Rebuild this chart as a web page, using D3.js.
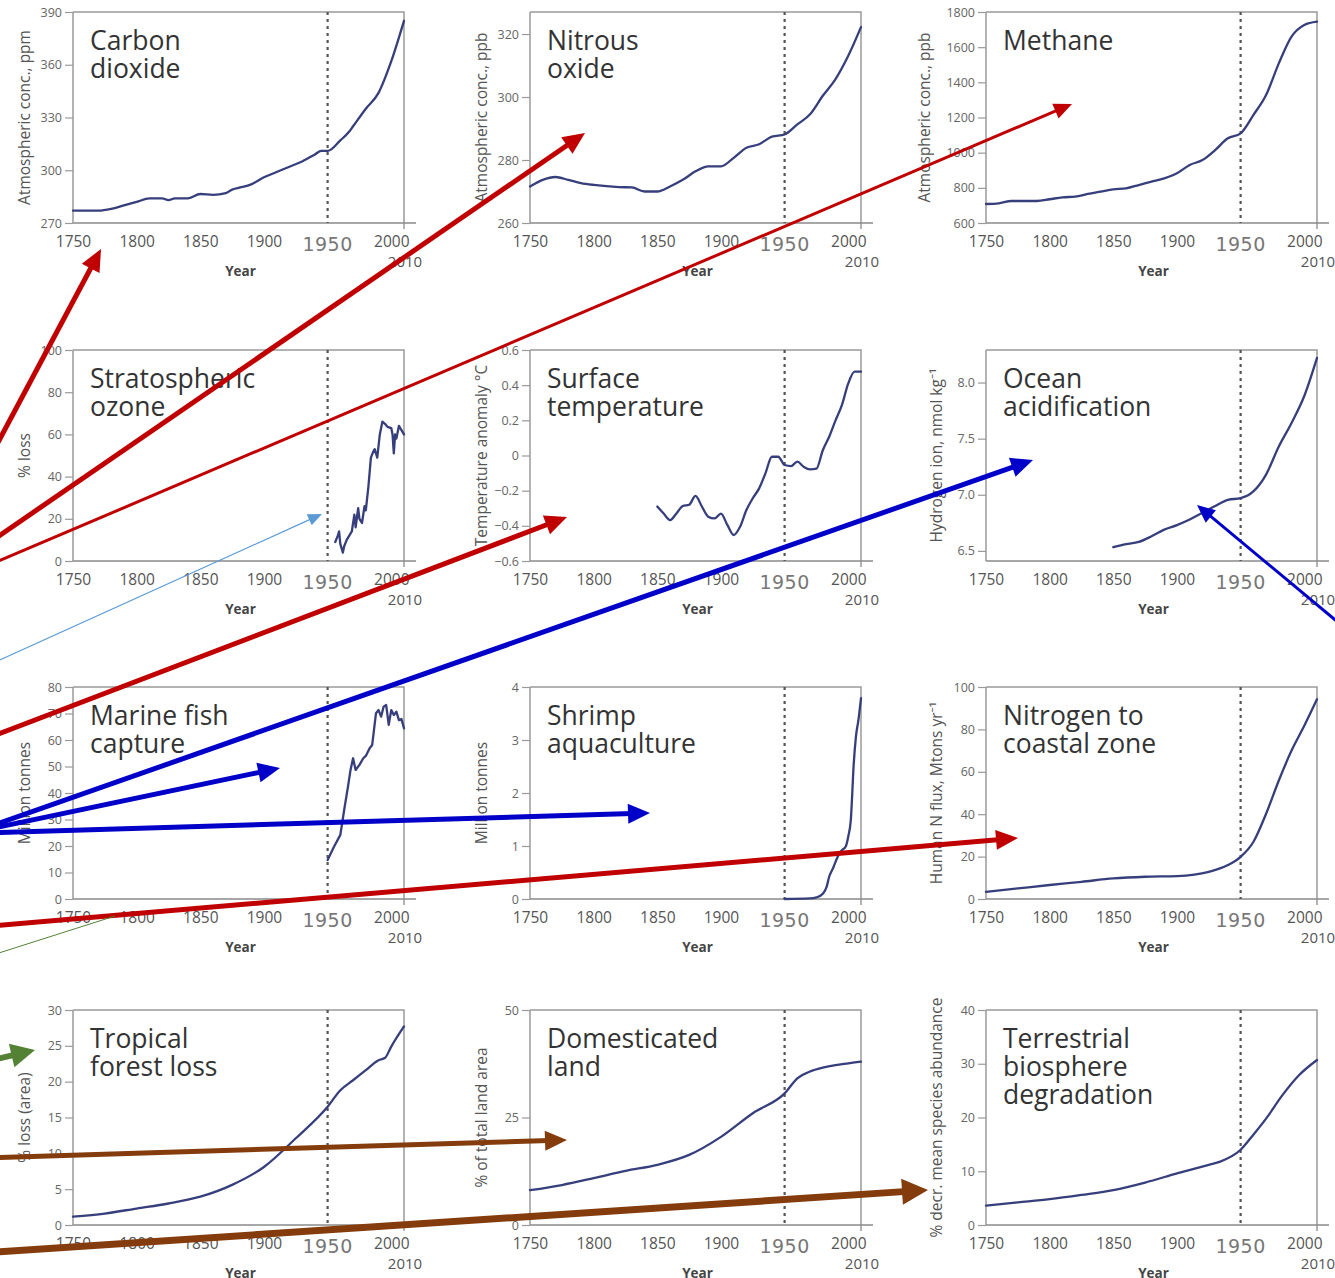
<!DOCTYPE html>
<html>
<head>
<meta charset="utf-8">
<script src="https://cdn.jsdelivr.net/npm/d3@7"></script>
<style>
  html, body { margin: 0; padding: 0; background: #fff; }
  svg { display: block; }
  text { font-family: "Open Sans", "Noto Sans", sans-serif; }
</style>
</head>
<body>
<svg id="chart" width="1335" height="1278"></svg>
<script>
// ---- series: [year, value] ----
const carbonDioxide = [[1750,277],[1760,277],[1770,277],[1780,278],[1790,280],[1800,282],[1810,284],[1820,284],[1825,283],[1830,284],[1840,284],[1850,286.5],[1860,286],[1870,287],[1875,289],[1880,290],[1890,292],[1900,296],[1910,299],[1920,302],[1930,305],[1940,309],[1945,311],[1950,311],[1960,317],[1967,322],[1970,325],[1980,335],[1990,344],[2000,362],[2010,385]];
const nitrousOxide = [[1750,271.6],[1760,273.7],[1770,274.6],[1780,273.7],[1790,272.7],[1800,272.1],[1820,271.4],[1830,271.3],[1840,270],[1850,270],[1860,271.6],[1870,273.7],[1880,276.4],[1890,278],[1900,278],[1910,280.7],[1920,283.9],[1930,285],[1940,287.4],[1950,288.1],[1960,291.3],[1970,294.5],[1980,300.4],[1990,305.7],[2000,313.1],[2010,322.2]];
const methane = [[1750,708],[1760,712],[1770,725],[1780,725],[1790,725],[1800,735],[1810,746],[1820,750],[1830,765],[1840,778],[1850,791],[1860,797],[1870,816],[1880,835],[1890,854],[1900,883],[1910,930],[1920,958],[1930,1015],[1940,1082],[1950,1110],[1960,1214],[1970,1328],[1980,1508],[1990,1660],[2000,1726],[2010,1745]];
const ozoneLoss = [[1956,9],[1958,12],[1959,14],[1960,8],[1962,4],[1963,7],[1965,10],[1967,12],[1969,14],[1971,22],[1972,16],[1974,25],[1975,20],[1977,18],[1979,26],[1980,24],[1982,35],[1984,49],[1986,52],[1987,53],[1989,49],[1991,60],[1993,66],[1995,65],[1997,63.6],[2000,63],[2001,60],[2002,51],[2003,60],[2004,58],[2006,64],[2008,62],[2010,60]];
const surfaceTemp = [[1850,-0.29],[1855,-0.33],[1860,-0.367],[1865,-0.33],[1870,-0.287],[1875,-0.28],[1880,-0.23],[1885,-0.29],[1890,-0.348],[1895,-0.358],[1900,-0.33],[1905,-0.395],[1910,-0.452],[1915,-0.405],[1920,-0.31],[1925,-0.243],[1930,-0.187],[1935,-0.1],[1940,-0.007],[1945,-0.007],[1950,-0.054],[1955,-0.06],[1960,-0.035],[1965,-0.064],[1970,-0.079],[1975,-0.075],[1980,0.03],[1985,0.107],[1990,0.2],[1995,0.287],[2000,0.41],[2005,0.477],[2010,0.477]];
const hydrogenIon = [[1850,6.533],[1860,6.56],[1870,6.58],[1880,6.63],[1890,6.69],[1900,6.73],[1910,6.78],[1920,6.84],[1930,6.9],[1940,6.955],[1950,6.97],[1960,7.03],[1970,7.18],[1980,7.43],[1990,7.64],[2000,7.88],[2010,8.22]];
const marineFish = [[1950,14.7],[1955,19.7],[1960,24.2],[1963,33.6],[1966,42.4],[1968,48.7],[1970,53.1],[1972,48.7],[1975,50.6],[1978,53.1],[1980,54],[1983,56.9],[1985,58.1],[1988,70.1],[1990,71.3],[1992,68.8],[1994,72.6],[1996,73.2],[1998,65.7],[2000,71.3],[2002,69.4],[2004,70.7],[2006,67.5],[2008,67.9],[2010,64.4]];
const shrimp = [[1950,0],[1970,0.01],[1975,0.03],[1980,0.1],[1983,0.23],[1985,0.42],[1988,0.58],[1990,0.7],[1993,0.86],[1995,0.92],[1998,0.99],[2000,1.18],[2002,1.49],[2003,1.93],[2004,2.43],[2006,3.06],[2008,3.38],[2010,3.79]];
const nitrogenFlux = [[1750,3.4],[1775,5],[1800,6.6],[1825,8.1],[1850,9.7],[1875,10.5],[1900,10.8],[1925,12.8],[1940,16],[1950,19.9],[1960,26.9],[1970,40.2],[1980,55.9],[1990,70],[2000,81.7],[2010,94.2]];
const forestLoss = [[1750,1.16],[1775,1.6],[1800,2.3],[1825,3.0],[1850,3.95],[1875,5.6],[1900,8.1],[1925,12.1],[1950,16.5],[1960,18.8],[1970,20.2],[1980,21.6],[1990,23],[1995,23.3],[2000,24.9],[2010,27.7]];
const domesticatedLand = [[1750,8.1],[1775,9.3],[1800,10.9],[1825,12.6],[1850,14],[1875,16.3],[1900,20.5],[1925,26],[1950,30.6],[1960,34.1],[1970,35.7],[1980,36.6],[1990,37.2],[2000,37.6],[2010,38]];
const biosphereLoss = [[1750,3.6],[1775,4.2],[1800,4.8],[1825,5.6],[1850,6.5],[1875,7.9],[1900,9.6],[1925,11.2],[1934,11.8],[1950,14],[1960,16.8],[1970,19.8],[1983,24.2],[1996,27.9],[2010,30.7]];

// ---- tick labels ----
const yearTicks = [1750, 1800, 1850, 1900, 2000];
const markYear = 1950;
const endYear = 2010;

// ---- panel definitions ----
const panels = [
  { title: ["Carbon", "dioxide"], yLabel: "Atmospheric conc., ppm", data: carbonDioxide, domain: [270, 390], ticks: [270,300,330,360,390], smooth: true },
  { title: ["Nitrous", "oxide"], yLabel: "Atmospheric conc., ppb", data: nitrousOxide, domain: [260, 327], ticks: [260,280,300,320], smooth: true },
  { title: ["Methane"], yLabel: "Atmospheric conc., ppb", data: methane, domain: [600, 1800], ticks: [600,800,1000,1200,1400,1600,1800], smooth: true },
  { title: ["Stratospheric", "ozone"], yLabel: "% loss", data: ozoneLoss, domain: [0, 100], ticks: [0,20,40,60,80,100], smooth: false },
  { title: ["Surface", "temperature"], yLabel: "Temperature anomaly °C", data: surfaceTemp, domain: [-0.6, 0.6], ticks: [-0.6,-0.4,-0.2,0,0.2,0.4,0.6], fmt: d => d === 0 ? "0" : d3.format(".1f")(d), smooth: true },
  { title: ["Ocean", "acidification"], yLabel: "Hydrogen ion, nmol kg⁻¹", data: hydrogenIon, domain: [6.41, 8.29], ticks: [6.5,7.0,7.5,8.0], fmt: d3.format(".1f"), smooth: true },
  { title: ["Marine fish", "capture"], yLabel: "Million tonnes", data: marineFish, domain: [0, 80], ticks: [0,10,20,30,40,50,60,70,80], smooth: false },
  { title: ["Shrimp", "aquaculture"], yLabel: "Million tonnes", data: shrimp, domain: [0, 4], ticks: [0,1,2,3,4], smooth: true },
  { title: ["Nitrogen to", "coastal zone"], yLabel: "Human N flux, Mtons yr⁻¹", data: nitrogenFlux, domain: [0, 100], ticks: [0,20,40,60,80,100], smooth: true },
  { title: ["Tropical", "forest loss"], yLabel: "% loss (area)", data: forestLoss, domain: [0, 30], ticks: [0,5,10,15,20,25,30], smooth: true },
  { title: ["Domesticated", "land"], yLabel: "% of total land area", data: domesticatedLand, domain: [0, 50], ticks: [0,25,50], smooth: true },
  { title: ["Terrestrial", "biosphere", "degradation"], yLabel: "% decr. mean species abundance", data: biosphereLoss, domain: [0, 40], ticks: [0,10,20,30,40], smooth: true }
];

// ---- layout ----
const colLeft = [73, 530, 986];
const plotW = 331;
const rowTop = [12, 350, 687, 1010];
const rowBottom = [223, 561, 899, 1225];
const yLabelX = [26, 483, 938];

// ---- annotation arrows (from the left margin into the panels) ----
const arrows = [
  { from: [-30, 495], to: [101, 249], color: "#c00000", width: 5, head: [22, 10] },
  { from: [-20, 549], to: [585, 133], color: "#c00000", width: 5, head: [22, 10] },
  { from: [-20, 569], to: [1072, 104], color: "#c00000", width: 3, head: [18, 8] },
  { from: [-20, 669], to: [322, 514], color: "#5b9bd5", width: 1.2, head: [14, 6] },
  { from: [-20, 741], to: [567, 517], color: "#c00000", width: 5, head: [22, 10] },
  { from: [-20, 830], to: [1033, 460], color: "#0000c8", width: 5, head: [22, 10] },
  { from: [-20, 831], to: [280, 768], color: "#0000c8", width: 5, head: [22, 10] },
  { from: [-20, 833], to: [650, 813], color: "#0000c8", width: 5, head: [22, 10] },
  { from: [-20, 927], to: [1018, 838], color: "#c00000", width: 5, head: [22, 10] },
  { from: [-20, 959], to: [115, 916], color: "#548235", width: 1, head: null },
  { from: [-20, 1063], to: [35, 1050], color: "#548235", width: 6, head: [24, 12] },
  { from: [-20, 1158], to: [567, 1140], color: "#843c0c", width: 5, head: [22, 10] },
  { from: [-20, 1253], to: [928, 1190], color: "#843c0c", width: 7, head: [26, 13] },
  { from: [1345, 628], to: [1197, 505], color: "#0000c8", width: 3, head: [18, 8] }
];

const svg = d3.select("#chart");
const lineColor = "#363f7c";
const frameColor = "#9a9a9a";

panels.forEach((p, i) => {
  const col = i % 3, row = Math.floor(i / 3);
  const x0 = colLeft[col], x1 = x0 + plotW;
  const top = rowTop[row], bottom = rowBottom[row];
  const x = d3.scaleLinear().domain([1750, 2010]).range([x0, x1]);
  const y = d3.scaleLinear().domain(p.domain).range([bottom, top]);
  const g = svg.append("g").attr("class", "panel");

  // frame: top and right edges
  g.append("path")
    .attr("d", `M${x0},${top}H${x1}V${bottom + 6}`)
    .attr("fill", "none").attr("stroke", frameColor).attr("stroke-width", 1.5);

  // y axis
  const ya = g.append("g").attr("transform", `translate(${x0},0)`)
    .call(d3.axisLeft(y).tickValues(p.ticks).tickSize(8).tickPadding(3).tickFormat(p.fmt || d3.format("d")));
  ya.select(".domain").attr("stroke", frameColor).attr("stroke-width", 1.5).attr("d", `M0,${top}V${bottom}`);
  ya.selectAll(".tick line").attr("stroke", frameColor).attr("stroke-width", 1.2);
  ya.selectAll(".tick text").attr("fill", "#666").style("font-size", "12.5px");

  // x axis
  const xa = g.append("g").attr("transform", `translate(0,${bottom})`)
    .call(d3.axisBottom(x).tickValues(yearTicks).tickSize(0).tickPadding(13).tickFormat(d3.format("d")));
  xa.select(".domain").attr("stroke", "#8a8a8a").attr("stroke-width", 1.6).attr("d", `M${x0},0H${x1 + 12}`);
  xa.selectAll(".tick text").attr("fill", "#555").style("font-size", "15.5px");

  g.append("text").attr("x", x(markYear)).attr("y", bottom + 28)
    .attr("text-anchor", "middle").attr("fill", "#777")
    .style("font-size", "19px").style("font-family", "'DejaVu Sans', sans-serif").style("letter-spacing", "0.5px")
    .text(markYear);
  g.append("text").attr("x", x(endYear) + 1).attr("y", bottom + 44)
    .attr("text-anchor", "middle").attr("fill", "#555").style("font-size", "15px")
    .text(endYear);
  g.append("text").attr("x", (x0 + x1) / 2 + 2).attr("y", bottom + 53)
    .attr("text-anchor", "middle").attr("fill", "#444").style("font-size", "13.5px").style("font-weight", "700")
    .text("Year");

  // y axis label
  g.append("text")
    .attr("transform", `translate(${yLabelX[col] - (i === 2 ? 12 : 0)},${(top + bottom) / 2}) rotate(-90)`)
    .attr("text-anchor", "middle").attr("dominant-baseline", "middle")
    .attr("fill", "#555").style("font-size", "15.5px")
    .text(p.yLabel);

  // 1950 marker
  g.append("line")
    .attr("x1", x(markYear)).attr("x2", x(markYear))
    .attr("y1", top).attr("y2", bottom)
    .attr("stroke", "#555").attr("stroke-width", 2.2).attr("stroke-dasharray", "3,4");

  // title
  const t = g.append("text").attr("x", x0 + 17).attr("y", top + 38)
    .attr("fill", "#333").style("font-size", "26.5px");
  p.title.forEach((line, k) => {
    t.append("tspan").attr("x", x0 + 17).attr("y", top + 38 + k * 28).text(line);
  });

  // series
  const line = d3.line()
    .x(d => x(d[0])).y(d => y(d[1]))
    .curve(p.smooth ? d3.curveMonotoneX : d3.curveLinear);
  g.append("path").datum(p.data)
    .attr("d", line)
    .attr("fill", "none").attr("stroke", lineColor)
    .attr("stroke-width", 2.3).attr("stroke-linejoin", "round").attr("stroke-linecap", "round");
});

// arrows on top
const ag = svg.append("g").attr("class", "arrows");
arrows.forEach(a => {
  const [xa, ya] = a.from, [xb, yb] = a.to;
  const dx = xb - xa, dy = yb - ya, len = Math.hypot(dx, dy);
  const ux = dx / len, uy = dy / len;
  const headLen = a.head ? a.head[0] : 0;
  const ex = xb - ux * headLen * 0.8, ey = yb - uy * headLen * 0.8;
  ag.append("line")
    .attr("x1", xa).attr("y1", ya).attr("x2", ex).attr("y2", ey)
    .attr("stroke", a.color).attr("stroke-width", a.width);
  if (a.head) {
    const [hl, hw] = a.head;
    const bx = xb - ux * hl, by = yb - uy * hl;
    const px = -uy, py = ux;
    ag.append("path")
      .attr("d", `M${xb},${yb}L${bx + px * hw},${by + py * hw}L${bx - px * hw},${by - py * hw}Z`)
      .attr("fill", a.color);
  }
});
</script>
</body>
</html>
